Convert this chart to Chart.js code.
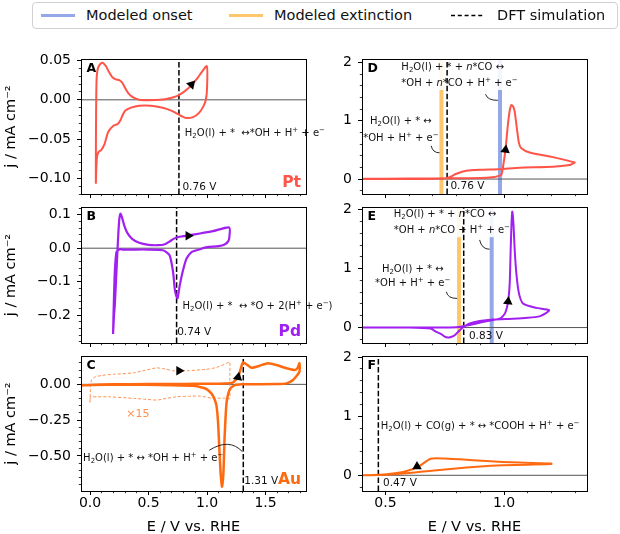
<!DOCTYPE html>
<html><head><meta charset="utf-8">
<script src="https://cdn.jsdelivr.net/npm/chart.js@4.4.1/dist/chart.umd.min.js"></script>
<style>
html,body{margin:0;padding:0;background:#fff;overflow:hidden;width:620px;height:534px;}
#wrap{position:relative;width:620px;height:534px;font-family:"DejaVu Sans",sans-serif;}
#wrap canvas{position:absolute;left:0;top:0;}
#legend{position:absolute;left:32px;top:2px;width:586px;height:27px;border:1px solid #d0d0d0;border-radius:4px;box-sizing:border-box;font-size:14.5px;color:#111;background:#fff;z-index:5;}
.it{position:absolute;top:0;height:25px;line-height:25px;white-space:nowrap;}
.sw{position:absolute;top:11px;height:3px;width:34px;}
</style></head>
<body>
<div id="wrap">
  <div id="legend">
    <div class="sw" id="swOnset" style="left:8px;"></div><div class="it" id="lg0" style="left:53px;"></div>
    <div class="sw" id="swExt" style="left:196px;"></div><div class="it" id="lg1" style="left:241px;"></div>
    <svg style="position:absolute;left:418px;top:10px" width="34" height="5"><line x1="0" y1="2.5" x2="34" y2="2.5" stroke="#000" stroke-width="1.3" stroke-dasharray="4 2.8"/></svg>
    <div class="it" id="lg2" style="left:464px;"></div>
  </div>
</div>
<script>
// ================= DATA =================
// Panel A: Pt CV (E in V vs RHE, j in mA cm^-2)
const ptE = [0.050,0.050,0.051,0.053,0.056,0.062,0.072,0.090,0.110,0.135,0.160,0.190,0.220,0.250,0.275,0.300,0.330,0.370,0.420,0.500,0.600,0.680,0.760,0.850,0.920,0.998,
             1.000,0.990,0.970,0.930,0.880,0.820,0.760,0.700,0.620,0.520,0.420,0.350,0.300,0.280,0.260,0.235,0.200,0.155,0.125,0.095,0.075,0.060,0.053,0.050];
const ptJ = [-0.107,-0.080,-0.040,0.000,0.025,0.036,0.042,0.046,0.047,0.043,0.036,0.029,0.026,0.025,0.022,0.015,0.008,0.003,0.000,-0.0005,0.000,0.002,0.006,0.016,0.028,0.043,
             0.014,0.000,-0.008,-0.017,-0.022,-0.023,-0.019,-0.014,-0.010,-0.0075,-0.0075,-0.010,-0.014,-0.019,-0.026,-0.031,-0.033,-0.041,-0.056,-0.064,-0.066,-0.072,-0.090,-0.107];
// Panel B: Pd CV
const pdE = [0.197,0.205,0.212,0.226,0.240,0.250,0.260,0.275,0.295,0.320,0.360,0.420,0.500,0.580,0.640,0.680,0.710,0.740,0.780,0.850,0.940,1.050,1.190,
             1.190,1.180,1.150,1.100,1.000,0.940,0.870,0.825,0.795,0.767,0.748,0.735,0.724,0.710,0.680,0.624,0.500,0.350,0.280,0.255,0.226,0.212,0.203,0.197];
const pdJ = [-0.256,-0.200,-0.170,-0.070,0.030,0.085,0.103,0.090,0.065,0.045,0.028,0.016,0.010,0.009,0.012,0.020,0.027,0.032,0.035,0.039,0.044,0.051,0.062,
             0.030,0.020,0.011,0.006,0.003,-0.003,-0.011,-0.031,-0.066,-0.111,-0.150,-0.140,-0.121,-0.071,-0.021,-0.006,-0.004,-0.004,-0.004,-0.003,-0.011,-0.070,-0.170,-0.256];
// Panel C: Au CV (solid) and x15 magnified low-potential CV (dashed)
const auE = [-0.070,0.000,0.200,0.500,0.800,1.000,1.150,1.220,1.245,1.265,1.285,1.307,1.336,1.380,1.450,1.520,1.593,1.680,1.750,1.775,1.790,
             1.790,1.735,1.680,1.600,1.400,1.300,1.240,1.200,1.180,1.165,1.150,1.140,1.128,1.118,1.108,1.094,1.080,1.060,1.037,1.000,0.966,0.880,0.600,0.300,0.000,-0.070];
const auJ = [-0.008,-0.004,0.000,0.002,0.003,0.004,0.006,0.012,0.030,0.050,0.100,0.154,0.140,0.116,0.130,0.147,0.135,0.112,0.100,0.115,0.147,
             0.088,0.030,0.007,0.002,0.001,0.000,-0.005,-0.028,-0.070,-0.145,-0.377,-0.620,-0.715,-0.640,-0.494,-0.260,-0.145,-0.095,-0.063,-0.035,-0.024,-0.010,-0.004,-0.003,-0.004,-0.006];
const au15E = [0.000,0.003,0.012,0.040,0.100,0.200,0.370,0.470,0.570,0.650,0.710,0.830,0.995,1.080,1.166,1.194,
               1.195,1.195,1.194,1.150,1.050,0.940,0.840,0.740,0.650,0.570,0.470,0.370,0.170,0.060,0.010,0.002,0.000];
const au15J = [-0.125,-0.040,0.030,0.050,0.062,0.070,0.080,0.098,0.115,0.106,0.095,0.095,0.105,0.118,0.145,0.156,
               0.060,-0.028,-0.100,-0.096,-0.098,-0.082,-0.083,-0.087,-0.098,-0.110,-0.104,-0.098,-0.087,-0.087,-0.088,-0.095,-0.125];
// Panel D: Pt CO stripping
const ptcoE = [0.400,0.600,0.800,0.900,0.950,0.975,0.989,0.996,1.006,1.017,1.025,1.031,1.038,1.045,1.055,1.063,1.073,1.108,1.206,1.298,
               1.290,1.277,1.206,1.066,0.980,0.897,0.841,0.799,0.771,0.750,0.720,0.600,0.400];
const ptcoJ = [0.005,0.008,0.012,0.018,0.030,0.050,0.074,0.216,0.500,0.960,1.200,1.274,1.250,1.160,0.846,0.617,0.530,0.457,0.377,0.285,
               0.265,0.240,0.210,0.194,0.170,0.160,0.142,0.090,0.034,0.010,0.004,0.002,0.000];
// Panel E: Pd CO stripping
const pdcoE = [0.400,0.600,0.700,0.800,0.850,0.900,0.950,0.985,1.005,1.017,1.024,1.028,1.032,1.035,1.040,1.045,1.052,1.063,1.080,1.136,1.190,
               1.175,1.150,1.100,1.038,0.953,0.897,0.855,0.830,0.813,0.792,0.776,0.764,0.750,0.735,0.715,0.690,0.600,0.400];
const pdcoJ = [0.000,0.000,0.000,0.005,0.040,0.085,0.125,0.155,0.250,0.440,0.750,1.320,1.800,1.970,1.750,1.320,0.920,0.580,0.410,0.334,0.295,
               0.240,0.190,0.165,0.150,0.136,0.110,0.068,0.010,-0.046,-0.131,-0.160,-0.170,-0.155,-0.110,-0.075,-0.017,0.000,0.000];
// Panel F: Au CO oxidation
const aucoE = [0.400,0.500,0.574,0.650,0.785,0.900,0.995,1.100,1.200,
               1.200,1.066,0.925,0.813,0.750,0.715,0.690,0.673,0.637,0.600,0.574,0.504,0.450,0.400];
const aucoJ = [0.000,0.008,0.030,0.060,0.110,0.150,0.170,0.180,0.190,
               0.200,0.215,0.240,0.270,0.285,0.290,0.280,0.240,0.140,0.085,0.056,0.017,0.005,0.000];
// DFT simulated potentials and modeled onset / extinction
const dftV = {A:0.76, B:0.74, C:1.31, D:0.76, E:0.83, F:0.47};
const onsetV = {D:0.983, E:0.948};
const extinctionV = {D:0.736, E:0.810};
// Tick values & labels
const leftXTicks = [0, 0.5, 1.0, 1.5], leftXLabels = ['0.0','0.5','1.0','1.5'];
const rightXTicks = [0.5, 1.0], rightXLabels = ['0.5','1.0'];
const ptYTicks = [-0.10,-0.05,0,0.05], ptYLabels = ['\u22120.10','\u22120.05','0.00','0.05'];
const pdYTicks = [-0.2,-0.1,0,0.1], pdYLabels = ['\u22120.2','\u22120.1','0.0','0.1'];
const auYTicks = [-0.5,-0.25,0], auYLabels = ['\u22120.50','\u22120.25','0.00'];
const coYTicks = [0,1,2], coYLabels = ['0','1','2'];
const legendLabels = ['Modeled onset','Modeled extinction','DFT simulation'];

// ================= STYLE / LAYOUT =================
const W = 620, H = 534;
const FONT = '"DejaVu Sans", sans-serif';
const C_PT = '#ff5447', C_PD = '#a11ff0', C_AU = '#ff6a10', C_AUL = '#ff9050';
const C_ONSET = '#94a8e8', C_EXT = '#ffc66b';
const COLS = {left:{l:81, r:306, yw:81}, right:{l:362, r:587, yw:50}};
const ROWS = [{t:59, b:194}, {t:207, b:343}, {t:356, b:491}];
const EQ_SIZE = 10;
Chart.defaults.font.family = FONT;

document.getElementById('lg0').textContent = legendLabels[0];
document.getElementById('lg1').textContent = legendLabels[1];
document.getElementById('lg2').textContent = legendLabels[2];
document.getElementById('swOnset').style.background = C_ONSET;
document.getElementById('swExt').style.background = C_EXT;

const pts = (xs, ys) => xs.map((x, i) => ({x, y: ys[i]}));
const specs = {};

function richText(ctx, str, x, y, size, align, color, weight) {
  const parts = [];
  str.split(/(\{[_^i][^}]*\})/).forEach(p => {
    if (!p) return;
    const m = p.match(/^\{([_^i])\s?(.*)\}$/);
    if (m) parts.push({t: m[2], k: m[1]}); else parts.push({t: p, k: ''});
  });
  const w8 = weight || 'normal';
  const fontFor = k => (k === '_' || k === '^') ? `${w8} ${(size*0.7).toFixed(2)}px ${FONT}` :
                       (k === 'i' ? `italic ${w8} ${size}px ${FONT}` : `${w8} ${size}px ${FONT}`);
  let w = 0;
  parts.forEach(p => { ctx.font = fontFor(p.k); p.w = ctx.measureText(p.t).width; w += p.w; });
  let cx = align === 'center' ? x - w / 2 : (align === 'right' ? x - w : x);
  ctx.textBaseline = 'middle'; ctx.textAlign = 'left'; ctx.fillStyle = color || '#111';
  parts.forEach(p => {
    ctx.font = fontFor(p.k);
    const dy = p.k === '_' ? size * 0.28 : (p.k === '^' ? -size * 0.33 : 0);
    ctx.fillText(p.t, cx, y + dy);
    cx += p.w;
  });
  return w;
}
const al = v => Math.round(v - 0.5) + 0.5;

const decor = {
  id: 'decor',
  beforeDatasetDraw(chart, args) {
    const p = specs[chart.canvas.id];
    const ds = chart.data.datasets[args.index];
    if (!p || !ds.boxBefore || !p.box) return;
    const xs = chart.scales.x, ys = chart.scales.y, ctx = chart.ctx;
    const x0 = xs.getPixelForValue(p.box[0]), x1 = xs.getPixelForValue(p.box[1]);
    const y0 = Math.max(ys.getPixelForValue(p.box[3]), chart.chartArea.top), y1 = ys.getPixelForValue(p.box[2]);
    ctx.save(); ctx.fillStyle = 'rgba(255,255,255,0.88)';
    ctx.fillRect(x0, y0, x1 - x0, y1 - y0);
    ctx.restore();
  },
  afterDraw(chart) {
    const p = specs[chart.canvas.id]; if (!p) return;
    const ctx = chart.ctx, a = chart.chartArea, xs = chart.scales.x, ys = chart.scales.y;
    ctx.save();
    // minor ticks
    ctx.strokeStyle = '#000'; ctx.lineWidth = 0.8;
    const isMajor = (v, arr) => arr.some(m => Math.abs(m - v) < 1e-6);
    ctx.beginPath();
    for (let k = Math.ceil(p.xr[0] / p.xMinor - 1e-9); k * p.xMinor <= p.xr[1] + 1e-9; k++) {
      const v = k * p.xMinor; if (isMajor(v, p.xt)) continue;
      const px = al(xs.getPixelForValue(v)); ctx.moveTo(px, a.bottom); ctx.lineTo(px, a.bottom + 2.2);
    }
    for (let k = Math.ceil(p.yr[0] / p.yMinor - 1e-9); k * p.yMinor <= p.yr[1] + 1e-9; k++) {
      const v = k * p.yMinor; if (isMajor(v, p.yt)) continue;
      const py = al(ys.getPixelForValue(v)); ctx.moveTo(a.left - 2.2, py); ctx.lineTo(a.left, py);
    }
    ctx.stroke();
    // frame
    ctx.lineWidth = 1; ctx.strokeStyle = '#000';
    ctx.strokeRect(al(a.left), al(a.top), al(a.right) - al(a.left), al(a.bottom) - al(a.top));
    // connectors
    ctx.lineWidth = 0.9; ctx.strokeStyle = '#111';
    (p.arcs || []).forEach(c => {
      ctx.beginPath();
      ctx.moveTo(xs.getPixelForValue(c[0][0]), ys.getPixelForValue(c[0][1]));
      ctx.quadraticCurveTo(xs.getPixelForValue(c[1][0]), ys.getPixelForValue(c[1][1]),
                           xs.getPixelForValue(c[2][0]), ys.getPixelForValue(c[2][1]));
      ctx.stroke();
    });
    // data-anchored texts
    (p.texts || []).forEach(t => {
      richText(ctx, t.s, xs.getPixelForValue(t.x), ys.getPixelForValue(t.y), t.size || EQ_SIZE, t.align || 'left', t.color, t.weight);
    });
    // panel letter & metal label
    richText(ctx, p.letter, a.left + 5.5, a.top + 9.5, 12.5, 'left', '#000', 'bold');
    if (p.metal) richText(ctx, p.metal.s, a.right - 5, a.bottom - 11.5, 15.5, 'right', p.metal.c, 'bold');
    ctx.restore();
  }
};
Chart.register(decor);

function line(data, color, width, extra) {
  return Object.assign({data, borderColor: color, borderWidth: width, pointRadius: 0, fill: false,
    tension: 0.2, borderJoinStyle: 'round', borderCapStyle: 'butt'}, extra || {});
}
function arrow(x, y, rot) {
  return {data: [{x, y}], showLine: false, pointStyle: 'triangle', pointRadius: 5.5, pointRotation: rot,
    pointBackgroundColor: '#000', pointBorderColor: '#000', pointBorderWidth: 0};
}
function vline(x, yr, color, width, dash, extra) {
  return Object.assign({data: [{x, y: yr[0]}, {x, y: yr[1]}], borderColor: color, borderWidth: width,
    borderDash: dash || [], pointRadius: 0, tension: 0, borderCapStyle: 'butt'}, extra || {});
}
function zero(xr) {
  return {data: [{x: xr[0], y: 0}, {x: xr[1], y: 0}], borderColor: '#555', borderWidth: 1, pointRadius: 0, tension: 0};
}

function build(p) {
  const c = COLS[p.col], r = ROWS[p.row];
  const bottomRow = p.row === 2;
  const xh = bottomRow ? H - r.b : 5;
  const canvas = document.createElement('canvas');
  canvas.id = 'c' + p.id; canvas.width = W; canvas.height = H;
  document.getElementById('wrap').appendChild(canvas);
  specs[canvas.id] = p;
  const gridOpt = {drawOnChartArea: false, drawTicks: true, tickLength: 4, color: '#000', lineWidth: 1};
  const borderOpt = {display: true, color: '#000', width: 1};
  new Chart(canvas, {
    type: 'line',
    data: {datasets: p.datasets.slice().reverse()},
    options: {
      responsive: false, animation: false, events: [], devicePixelRatio: 1,
      layout: {padding: {left: c.l - c.yw, right: W - c.r, top: r.t, bottom: H - r.b - xh}},
      plugins: {legend: {display: false}, tooltip: {enabled: false}},
      scales: {
        x: {
          type: 'linear', min: p.xr[0], max: p.xr[1],
          afterFit: s => { s.height = xh; },
          afterBuildTicks: s => { s.ticks = p.xt.map(v => ({value: v})); },
          ticks: {autoSkip: false, maxRotation: 0, padding: 0, color: '#000', font: {size: 14},
                  callback: (v, i) => bottomRow ? p.xl[i] : ''},
          grid: gridOpt, border: borderOpt,
          title: {display: bottomRow, text: 'E / V vs. RHE', color: '#000', font: {size: 14.5, lineHeight: 1}, padding: {top: 0, bottom: 0}}
        },
        y: {
          type: 'linear', min: p.yr[0], max: p.yr[1],
          afterFit: s => { s.width = c.yw; },
          afterBuildTicks: s => { s.ticks = p.yt.map(v => ({value: v})); },
          ticks: {autoSkip: false, padding: 6, color: '#000', font: {size: 14}, callback: (v, i) => p.yl[i]},
          grid: gridOpt, border: borderOpt,
          title: {display: p.col === 'left', text: 'j / mA cm\u207B\u00B2', color: '#000', font: {size: 14.5}, padding: {top: 3, bottom: 0}}
        }
      }
    }
  });
}

const XL = [-0.077, 1.846], XR = [0.401, 1.35];

const panels = [
  {id: 'A', col: 'left', row: 0, xr: XL, yr: [-0.12, 0.052], xt: leftXTicks, xl: leftXLabels, yt: ptYTicks, yl: ptYLabels,
   xMinor: 0.1, yMinor: 0.01, letter: 'A', metal: {s: 'Pt', c: C_PT},
   texts: [{x: 0.81, y: -0.0426, s: 'H{_2}O(l) + *  \u2194*OH + H{^+} + e{^\u2212}'}, {x: 0.79, y: -0.112, s: '0.76 V', size: 10.5}]},
  {id: 'B', col: 'left', row: 1, xr: XL, yr: [-0.283, 0.123], xt: leftXTicks, xl: leftXLabels, yt: pdYTicks, yl: pdYLabels,
   xMinor: 0.1, yMinor: 0.02, letter: 'B', metal: {s: 'Pd', c: C_PD},
   texts: [{x: 0.79, y: -0.174, s: 'H{_2}O(l) + *  \u2194 *O + 2(H{^+} + e{^\u2212})'}, {x: 0.745, y: -0.251, s: '0.74 V', size: 10.5}]},
  {id: 'C', col: 'left', row: 2, xr: XL, yr: [-0.745, 0.198], xt: leftXTicks, xl: leftXLabels, yt: auYTicks, yl: auYLabels,
   xMinor: 0.1, yMinor: 0.05, letter: 'C', metal: {s: 'Au', c: C_AU},
   texts: [{x: -0.059, y: -0.517, s: 'H{_2}O(l) + * \u2194 *OH + H{^+} + e{^\u2212}'}, {x: 0.31, y: -0.21, s: '\u00D715', color: C_AUL, size: 11},
           {x: 1.318, y: -0.68, s: '1.31 V', size: 10.5}],
   arcs: [[[1.02, -0.46], [1.19, -0.373], [1.302, -0.47]]]},
  {id: 'D', col: 'right', row: 0, xr: XR, yr: [-0.257, 2.063], xt: rightXTicks, xl: rightXLabels, yt: coYTicks, yl: coYLabels,
   xMinor: 0.1, yMinor: 0.2, letter: 'D', box: [0.555, 1.023, 1.53, 2.1],
   texts: [{x: 0.567, y: 1.914, s: 'H{_2}O(l) + * + {i n}*CO \u2194'}, {x: 0.567, y: 1.647, s: '*OH + {i n}*CO + H{^+} + e{^\u2212}'},
           {x: 0.565, y: 0.988, s: 'H{_2}O(l) + * \u2194', align: 'center'}, {x: 0.565, y: 0.703, s: '*OH + H{^+} + e{^\u2212}', align: 'center'},
           {x: 0.774, y: -0.127, s: '0.76 V', size: 10.5}],
   arcs: [[[0.922, 1.458], [0.930, 1.352], [0.974, 1.352]], [[0.693, 0.571], [0.699, 0.451], [0.728, 0.451]]]},
  {id: 'E', col: 'right', row: 1, xr: XR, yr: [-0.262, 2.046], xt: rightXTicks, xl: rightXLabels, yt: coYTicks, yl: coYLabels,
   xMinor: 0.1, yMinor: 0.2, letter: 'E', box: [0.522, 1.006, 1.533, 2.1],
   texts: [{x: 0.535, y: 1.914, s: 'H{_2}O(l) + * + {i n}*CO \u2194'}, {x: 0.535, y: 1.646, s: '*OH + {i n}*CO + H{^+} + e{^\u2212}'},
           {x: 0.615, y: 0.993, s: 'H{_2}O(l) + * \u2194', align: 'center'}, {x: 0.615, y: 0.75, s: '*OH + H{^+} + e{^\u2212}', align: 'center'},
           {x: 0.852, y: -0.143, s: '0.83 V', size: 10.5}],
   arcs: [[[0.897, 1.487], [0.906, 1.329], [0.939, 1.329]], [[0.757, 0.606], [0.762, 0.494], [0.802, 0.494]]]},
  {id: 'F', col: 'right', row: 2, xr: XR, yr: [-0.266, 2.02], xt: rightXTicks, xl: rightXLabels, yt: coYTicks, yl: coYLabels,
   xMinor: 0.1, yMinor: 0.2, letter: 'F',
   texts: [{x: 0.48, y: 0.82, s: 'H{_2}O(l) + CO(g) + * \u2194 *COOH + H{^+} + e{^\u2212}'}, {x: 0.49, y: -0.13, s: '0.47 V', size: 10.5}]}
];

const DASH = [5.5, 2.4];
// datasets listed bottom-to-top
panels[0].datasets = [vline(dftV.A, panels[0].yr, '#000', 1.5, DASH), zero(XL), line(pts(ptE, ptJ), C_PT, 2), arrow(0.867, 0.0195, 42)];
panels[1].datasets = [vline(dftV.B, panels[1].yr, '#000', 1.5, DASH), zero(XL), line(pts(pdE, pdJ), C_PD, 2.2), arrow(0.84, 0.0375, 90)];
panels[2].datasets = [vline(dftV.C, panels[2].yr, '#000', 1.5, DASH), zero(XL),
  line(pts(au15E, au15J), C_AUL, 1, {borderDash: [3, 2]}), line(pts(auE, auJ), C_AU, 2.5),
  arrow(0.761, 0.095, 90), arrow(1.265, 0.05, 12)];
panels[3].datasets = [vline(extinctionV.D, panels[3].yr, C_EXT, 4), vline(onsetV.D, panels[3].yr, C_ONSET, 4),
  vline(dftV.D, panels[3].yr, '#000', 1.5, DASH, {boxBefore: true}), zero(XR), line(pts(ptcoE, ptcoJ), C_PT, 2), arrow(1.006, 0.5, 8)];
panels[4].datasets = [vline(extinctionV.E, panels[4].yr, C_EXT, 4), vline(onsetV.E, panels[4].yr, C_ONSET, 4),
  vline(dftV.E, panels[4].yr, '#000', 1.5, DASH, {boxBefore: true}), zero(XR), line(pts(pdcoE, pdcoJ), C_PD, 2), arrow(1.017, 0.44, 6)];
panels[5].datasets = [vline(dftV.F, panels[5].yr, '#000', 1.5, DASH), zero(XR), line(pts(aucoE, aucoJ), C_AU, 2), arrow(0.633, 0.15, 240)];

panels.forEach(build);
</script>
</body></html>
